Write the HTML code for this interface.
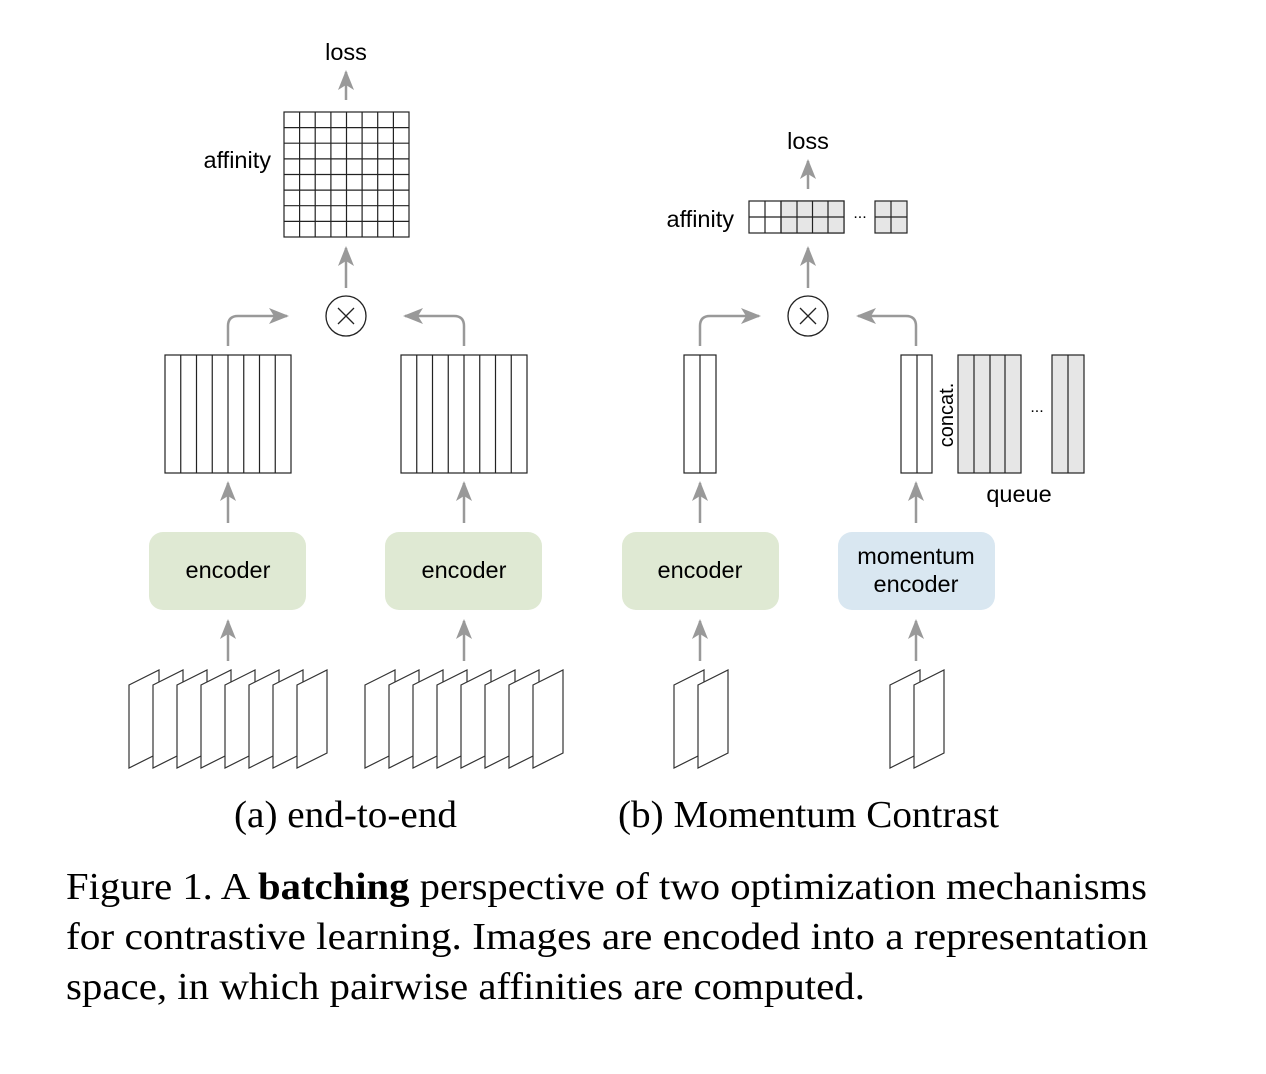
<!DOCTYPE html>
<html><head><meta charset="utf-8"><style>
html,body{margin:0;padding:0;background:#fff;}
svg{display:block;}
.s{font-family:"Liberation Sans",Arial,sans-serif;font-size:23.5px;fill:#000;}
.r{font-family:"Liberation Serif","Times New Roman",serif;fill:#000;}
</style></head><body>
<svg width="1266" height="1074" viewBox="0 0 1266 1074" xmlns="http://www.w3.org/2000/svg">
<defs>
<marker id="ah" viewBox="0 0 20 16" refX="18" refY="8" markerWidth="20" markerHeight="16" markerUnits="userSpaceOnUse" orient="auto">
<path d="M0,0 L20,8 L0,16 L5,8 z" fill="#999"/>
</marker>
</defs>
<g stroke="#999" stroke-width="2.5" fill="none" marker-end="url(#ah)">
<line x1="346" y1="100" x2="346" y2="72"/>
<line x1="346" y1="288" x2="346" y2="248"/>
<path d="M228,346 V326 Q228,316 238,316 H287"/>
<path d="M464,346 V326 Q464,316 454,316 H405"/>
<line x1="228" y1="523" x2="228" y2="483"/>
<line x1="464" y1="523" x2="464" y2="483"/>
<line x1="228" y1="661" x2="228" y2="621"/>
<line x1="464" y1="661" x2="464" y2="621"/>
<line x1="808" y1="189" x2="808" y2="161"/>
<line x1="808" y1="288" x2="808" y2="248"/>
<path d="M700,346 V326 Q700,316 710,316 H759"/>
<path d="M916,346 V326 Q916,316 906,316 H858"/>
<line x1="700" y1="523" x2="700" y2="483"/>
<line x1="916" y1="523" x2="916" y2="483"/>
<line x1="700" y1="661" x2="700" y2="621"/>
<line x1="916" y1="661" x2="916" y2="621"/>
</g>

<g stroke="#222" stroke-width="1.2" fill="none">
<rect x="284" y="112" width="125" height="125" fill="#fff"/>
<path d="M299.6,112V237M315.2,112V237M330.9,112V237M346.5,112V237M362.1,112V237M377.7,112V237M393.4,112V237
M284,127.6H409M284,143.2H409M284,158.9H409M284,174.5H409M284,190.1H409M284,205.7H409M284,221.4H409"/>
</g>
<text class="s" x="346" y="60" text-anchor="middle">loss</text>
<text class="s" x="271" y="168" text-anchor="end">affinity</text>

<g stroke="#222" stroke-width="1.3" fill="#fff">
<circle cx="346" cy="316" r="20"/>
<path d="M338,308 L354,324 M354,308 L338,324"/>
<circle cx="808" cy="316" r="20"/>
<path d="M800,308 L816,324 M816,308 L800,324"/>
</g>

<g stroke="#222" stroke-width="1.2" fill="#fff">
<rect x="165" y="355" width="126" height="118"/>
<path d="M180.75,355V473M196.5,355V473M212.25,355V473M228,355V473M243.75,355V473M259.5,355V473M275.25,355V473" fill="none"/>
<rect x="401" y="355" width="126" height="118"/>
<path d="M416.75,355V473M432.5,355V473M448.25,355V473M464,355V473M479.75,355V473M495.5,355V473M511.25,355V473" fill="none"/>
</g>

<rect x="149" y="532" width="157" height="78" rx="14" fill="#dfe9d3"/>
<rect x="385" y="532" width="157" height="78" rx="14" fill="#dfe9d3"/>
<rect x="622" y="532" width="157" height="78" rx="14" fill="#dfe9d3"/>
<rect x="838" y="532" width="157" height="78" rx="14" fill="#d9e7f1"/>
<text class="s" x="228" y="578" text-anchor="middle">encoder</text>
<text class="s" x="464" y="578" text-anchor="middle">encoder</text>
<text class="s" x="700" y="578" text-anchor="middle">encoder</text>
<text class="s" x="916" y="564" text-anchor="middle">momentum</text>
<text class="s" x="916" y="592" text-anchor="middle">encoder</text>

<g stroke="#333" stroke-width="1.2" fill="#fff">
<g id="pa">
<path d="M129,685 L159,670 L159,753 L129,768 Z"/>
<path d="M153,685 L183,670 L183,753 L153,768 Z"/>
<path d="M177,685 L207,670 L207,753 L177,768 Z"/>
<path d="M201,685 L231,670 L231,753 L201,768 Z"/>
<path d="M225,685 L255,670 L255,753 L225,768 Z"/>
<path d="M249,685 L279,670 L279,753 L249,768 Z"/>
<path d="M273,685 L303,670 L303,753 L273,768 Z"/>
<path d="M297,685 L327,670 L327,753 L297,768 Z"/>
</g>
<use href="#pa" x="236"/>
<path d="M674,685 L704,670 L704,753 L674,768 Z"/>
<path d="M698,685 L728,670 L728,753 L698,768 Z"/>
<path d="M890,685 L920,670 L920,753 L890,768 Z"/>
<path d="M914,685 L944,670 L944,753 L914,768 Z"/>
</g>

<text class="s" x="808" y="149" text-anchor="middle">loss</text>
<text class="s" x="734" y="227" text-anchor="end">affinity</text>
<g stroke="#222" stroke-width="1.2">
<rect x="749" y="201" width="95" height="32" fill="#fff"/>
<rect x="781" y="201" width="63" height="32" fill="#e6e6e6"/>
<path d="M765,201V233M781,201V233M797,201V233M812.5,201V233M828,201V233M749,217H844" fill="none"/>
<rect x="875" y="201" width="32" height="32" fill="#e6e6e6"/>
<path d="M891,201V233M875,217H907" fill="none"/>
</g>
<text class="s" x="860" y="218" text-anchor="middle" style="font-size:16px">...</text>

<g stroke="#222" stroke-width="1.2">
<rect x="684" y="355" width="32" height="118" fill="#fff"/>
<path d="M700,355V473" fill="none"/>
<rect x="901" y="355" width="31" height="118" fill="#fff"/>
<path d="M917,355V473" fill="none"/>
<rect x="958" y="355" width="63" height="118" fill="#e6e6e6"/>
<path d="M974,355V473M990,355V473M1005,355V473" fill="none"/>
<rect x="1052" y="355" width="32" height="118" fill="#e6e6e6"/>
<path d="M1068,355V473" fill="none"/>
</g>
<text class="s" x="1037" y="412" text-anchor="middle" style="font-size:16px">...</text>
<text class="s" transform="translate(953,415) rotate(-90)" text-anchor="middle" style="font-size:20px">concat.</text>
<text class="s" x="1019" y="502" text-anchor="middle">queue</text>

<text class="r" x="234" y="827" font-size="38" textLength="223" lengthAdjust="spacingAndGlyphs">(a) end-to-end</text>
<text class="r" x="618" y="827" font-size="38" textLength="381" lengthAdjust="spacingAndGlyphs">(b) Momentum Contrast</text>
<text class="r" x="66" y="899" font-size="38" textLength="1081" lengthAdjust="spacingAndGlyphs">Figure 1. A <tspan font-weight="bold">batching</tspan> perspective of two optimization mechanisms</text>
<text class="r" x="66" y="949" font-size="38" textLength="1082" lengthAdjust="spacingAndGlyphs">for contrastive learning. Images are encoded into a representation</text>
<text class="r" x="66" y="999" font-size="38" textLength="799" lengthAdjust="spacingAndGlyphs">space, in which pairwise affinities are computed.</text>
</svg>
</body></html>
